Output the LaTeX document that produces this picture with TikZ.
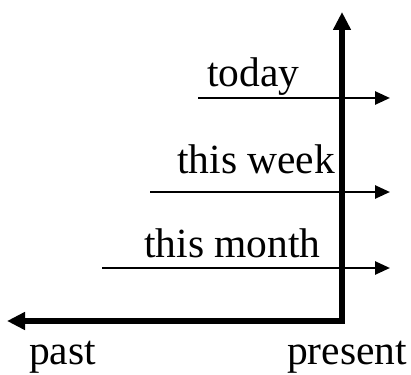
\documentclass[tikz,border=0pt]{standalone}
\usepackage{fontspec}
\setmainfont{Liberation Serif}
\usetikzlibrary{arrows.meta}
\begin{document}
\begin{tikzpicture}[x=1pt,y=-1pt,
  lbl/.style={anchor=base west,inner sep=0pt,font=\fontsize{41.5}{49}\selectfont},
  thinarrow/.style={line width=2.6pt,-{Triangle[length=15pt,width=13pt]}},
  axis/.style={line width=6pt,line join=miter,{Triangle[length=18pt,width=17pt]}-{Triangle[length=18pt,width=17pt]}}]
\useasboundingbox (0,0) rectangle (411,374);
\node[lbl] (today) at (207,87) {today};
\node[lbl] (week) at (177,173) {this week};
\node[lbl] (month) at (144,257) {this month};
\node[lbl] (past) at (29,364.5) {past};
\node[lbl] (present) at (287,364.5) {present};
\coordinate (ts) at (198,98);  \coordinate (te) at (390,98);
\coordinate (ws) at (150,192); \coordinate (we) at (390,192);
\coordinate (ms) at (102,268); \coordinate (me) at (390,268);
\draw[thinarrow] (ts) -- (te);
\draw[thinarrow] (ws) -- (we);
\draw[thinarrow] (ms) -- (me);
\coordinate (O) at (342,321);
\coordinate (top) at (342,12);
\coordinate (left) at (7,321);
\draw[axis] (left) -- (O) -- (top);
\end{tikzpicture}
\end{document}
